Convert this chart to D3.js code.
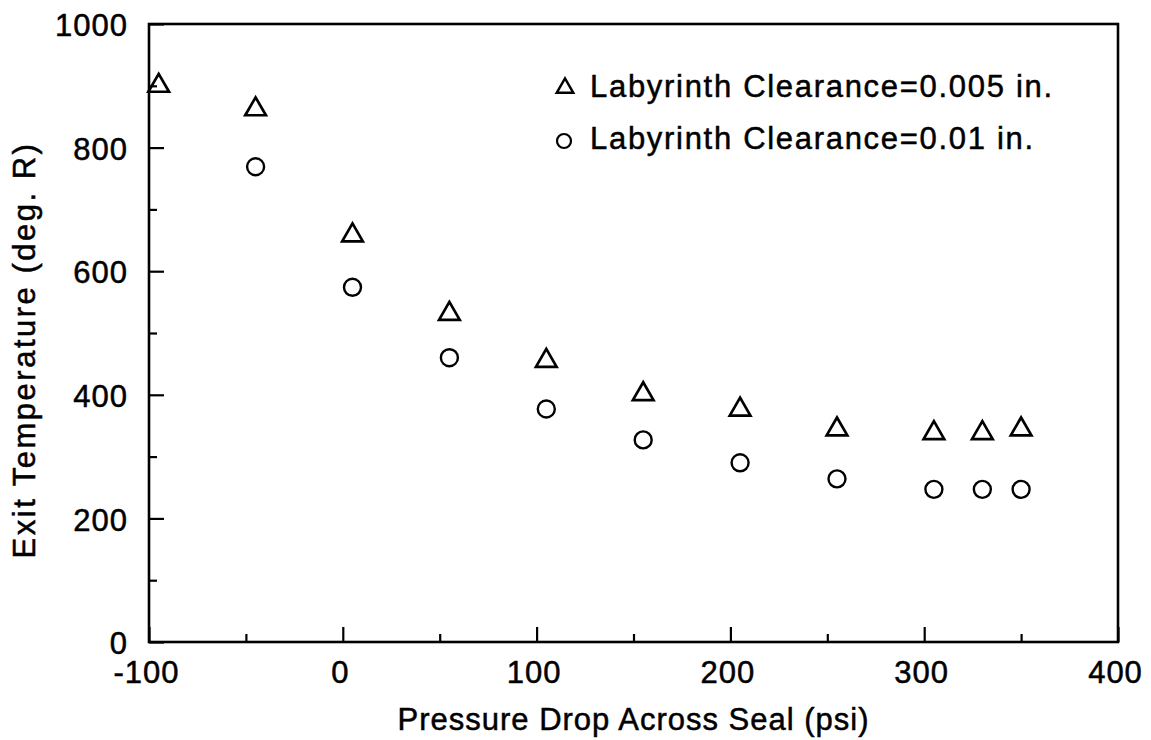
<!DOCTYPE html>
<html>
<head>
<meta charset="utf-8">
<script src="https://cdn.jsdelivr.net/npm/d3@7"></script>
<style>
  body { margin: 0; background: #fff; }
  text { font-family: "Liberation Sans", Arial, Helvetica, sans-serif; fill: #000; stroke: #000; stroke-width: 0.5px; }
  .axis path, .axis line { stroke: #000; }
</style>
</head>
<body>
<svg class="chart"></svg>
<script>
// data
var pressureDrop = [-95, -45, 5, 55, 105, 155, 205, 255, 305, 330, 350];
var tempSmall = [900, 862, 658, 531, 455, 401, 376, 344, 338, 338, 344];   // clearance 0.005 in.
var pressureDropWide = [-45, 5, 55, 105, 155, 205, 255, 305, 330, 350];
var tempWide = [769, 574, 460, 377, 327, 290, 264, 247, 247, 247];        // clearance 0.01 in.
var xTicks = [-100, 0, 100, 200, 300, 400];
var xMinor = [-50, 50, 150, 250, 350];
var yTicks = [0, 200, 400, 600, 800, 1000];
var yMinor = [100, 300, 500, 700, 900];
var legendLabels = ["Labyrinth Clearance=0.005 in.", "Labyrinth Clearance=0.01 in."];

(function () {
  var width = 1151, height = 740;
  var plotLeft = 149, plotRight = 1118, plotTop = 24, plotBottom = 642;

  var svg = d3.select('.chart')
    .attr('width', width)
    .attr('height', height);

  svg.append('rect').attr('width', width).attr('height', height).attr('fill', '#fff');

  var x = d3.scaleLinear().domain([-100, 400]).range([plotLeft, plotRight]);
  var y = d3.scaleLinear().domain([0, 1000]).range([plotBottom, plotTop]);

  var plain = function (d) { return String(d); };

  // frame
  svg.append('rect')
    .attr('x', plotLeft).attr('y', plotTop)
    .attr('width', plotRight - plotLeft).attr('height', plotBottom - plotTop)
    .attr('fill', 'none').attr('stroke', '#000').attr('stroke-width', 2.6);

  // x axis, ticks point inward
  var xAxis = svg.append('g')
    .attr('class', 'axis')
    .attr('transform', 'translate(0,' + plotBottom + ')')
    .call(d3.axisBottom(x).tickValues(xTicks).tickSize(-15).tickFormat(plain));
  xAxis.select('.domain').remove();
  xAxis.selectAll('line').attr('stroke-width', 2.2);
  xAxis.selectAll('text')
    .attr('y', 41).attr('dy', null).attr('dx', -3)
    .style('font-size', '31px').style('letter-spacing', '1px');

  var xAxisMinor = svg.append('g')
    .attr('class', 'axis')
    .attr('transform', 'translate(0,' + plotBottom + ')')
    .call(d3.axisBottom(x).tickValues(xMinor).tickSize(-8).tickFormat(''));
  xAxisMinor.select('.domain').remove();
  xAxisMinor.selectAll('line').attr('stroke-width', 2.2);

  // y axis
  var yAxis = svg.append('g')
    .attr('class', 'axis')
    .attr('transform', 'translate(' + plotLeft + ',0)')
    .call(d3.axisLeft(y).tickValues(yTicks).tickSize(-15).tickFormat(plain));
  yAxis.select('.domain').remove();
  yAxis.selectAll('line').attr('stroke-width', 2.2);
  yAxis.selectAll('text')
    .attr('x', -21).attr('dy', '0.38em')
    .style('font-size', '31px').style('letter-spacing', '1px');

  var yAxisMinor = svg.append('g')
    .attr('class', 'axis')
    .attr('transform', 'translate(' + plotLeft + ',0)')
    .call(d3.axisLeft(y).tickValues(yMinor).tickSize(-8).tickFormat(''));
  yAxisMinor.select('.domain').remove();
  yAxisMinor.selectAll('line').attr('stroke-width', 2.2);

  // axis titles
  svg.append('text')
    .attr('x', (plotLeft + plotRight) / 2)
    .attr('y', 730)
    .attr('text-anchor', 'middle')
    .style('font-size', '31px')
    .style('letter-spacing', '1px')
    .text('Pressure Drop Across Seal (psi)');

  svg.append('text')
    .attr('transform', 'translate(35,350) rotate(-90)')
    .attr('text-anchor', 'middle')
    .style('font-size', '31px')
    .style('letter-spacing', '2.5px')
    .text('Exit Temperature (deg. R)');

  // points
  var triangle = d3.symbol().type(d3.symbolTriangle).size(185);

  svg.append('g').selectAll('path')
    .data(pressureDrop)
    .enter().append('path')
    .attr('d', triangle)
    .attr('transform', function (d, i) {
      return 'translate(' + x(d) + ',' + y(tempSmall[i]) + ')';
    })
    .attr('fill', 'none')
    .attr('stroke', '#000')
    .attr('stroke-width', 2.7);

  svg.append('g').selectAll('circle')
    .data(pressureDropWide)
    .enter().append('circle')
    .attr('cx', function (d) { return x(d); })
    .attr('cy', function (d, i) { return y(tempWide[i]); })
    .attr('r', 8.5)
    .attr('fill', 'none')
    .attr('stroke', '#000')
    .attr('stroke-width', 2.4);

  // legend
  var legend = svg.append('g');
  legend.append('path')
    .attr('d', d3.symbol().type(d3.symbolTriangle).size(120))
    .attr('transform', 'translate(565,88)')
    .attr('fill', 'none').attr('stroke', '#000').attr('stroke-width', 2.4);
  legend.append('circle')
    .attr('cx', 564).attr('cy', 141).attr('r', 7)
    .attr('fill', 'none').attr('stroke', '#000').attr('stroke-width', 2.2);

  legend.selectAll('text')
    .data(legendLabels)
    .enter().append('text')
    .attr('x', 590)
    .attr('y', function (d, i) { return 97 + i * 52; })
    .style('font-size', '31px')
    .style('letter-spacing', '1.7px')
    .text(function (d) { return d; });
})();
</script>
</body>
</html>
